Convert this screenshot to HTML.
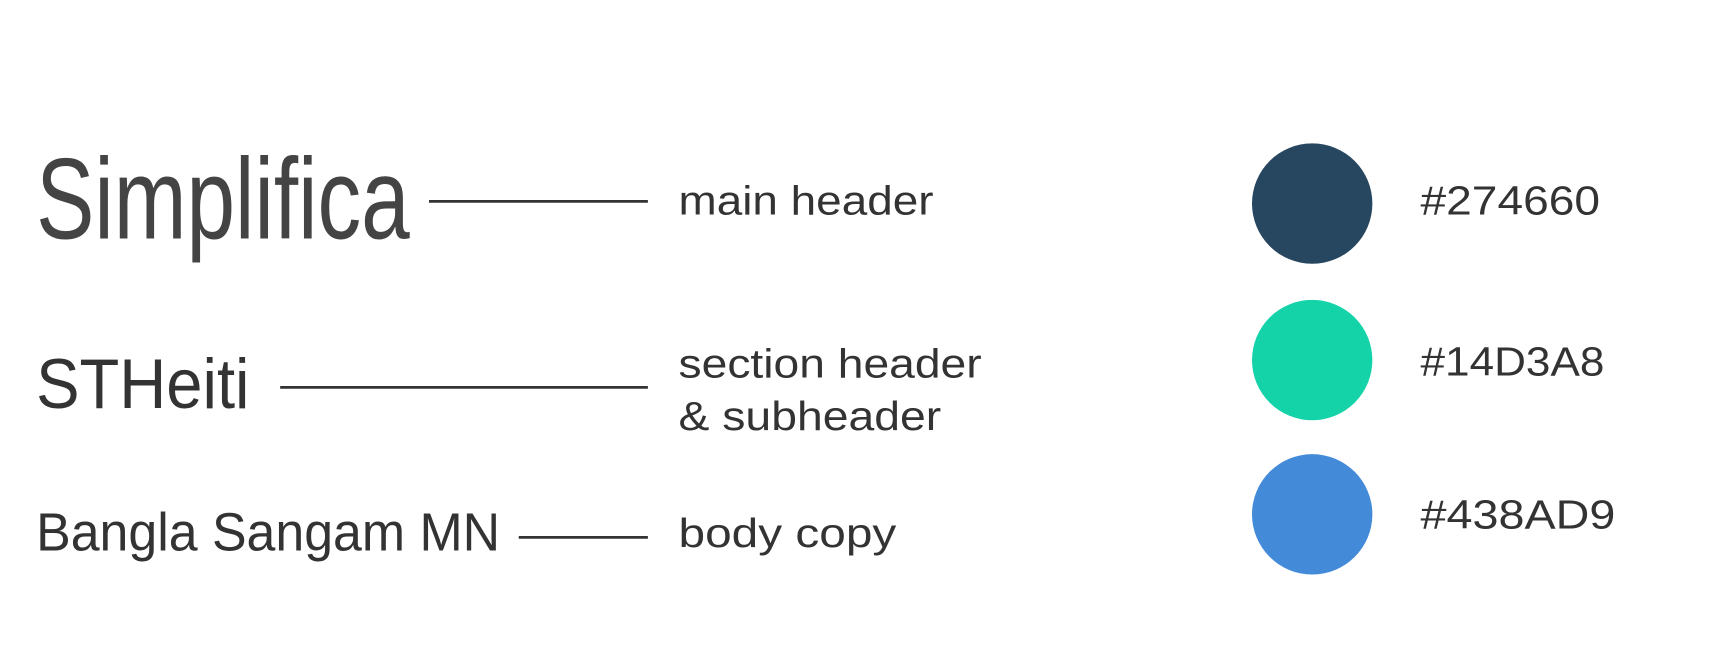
<!DOCTYPE html>
<html>
<head>
<meta charset="utf-8">
<style>
  html, body { margin: 0; padding: 0; background: #ffffff; }
  body { width: 1716px; height: 667px; overflow: hidden; }
  svg { display: block; }
  text { fill: #333333; font-family: "Liberation Sans", "DejaVu Sans", sans-serif; }
</style>
</head>
<body>
<svg width="1716" height="667" viewBox="0 0 1716 667">
 <g transform="scale(1.0944)">
  <g>
    <text x="33" y="218" font-size="105" transform="translate(33 0) scale(0.76 1) translate(-33 0)" style="fill:#444">Simplifica</text>
    <line x1="392" y1="184" x2="592" y2="184" stroke="#333" stroke-width="2.5"/>
    <text x="620" y="196" font-size="37" textLength="233" lengthAdjust="spacingAndGlyphs">main header</text>
  </g>

  <g>
    <text x="33" y="373" font-size="64" font-family="DejaVu Sans" textLength="195" lengthAdjust="spacingAndGlyphs">STHeiti</text>
    <line x1="256" y1="354" x2="592" y2="354" stroke="#333" stroke-width="2.5"/>
    <text x="620" y="345" font-size="37" textLength="277" lengthAdjust="spacingAndGlyphs">section header</text>
    <text x="620" y="393" font-size="37" textLength="240" lengthAdjust="spacingAndGlyphs">&amp; subheader</text>
  </g>

  <g>
    <text x="33" y="503" font-size="49" textLength="424" lengthAdjust="spacingAndGlyphs">Bangla Sangam MN</text>
    <line x1="474" y1="491" x2="592" y2="491" stroke="#333" stroke-width="2.5"/>
    <text x="620" y="500" font-size="37" textLength="199" lengthAdjust="spacingAndGlyphs">body copy</text>
  </g>

  <g>
    <circle cx="1199" cy="186" r="55" fill="#274660"/>
    <text x="1298" y="196" font-size="37" textLength="164" lengthAdjust="spacingAndGlyphs">#274660</text>
    <circle cx="1199" cy="329" r="55" fill="#14D3A8"/>
    <text x="1298" y="343" font-size="37" textLength="168" lengthAdjust="spacingAndGlyphs">#14D3A8</text>
    <circle cx="1199" cy="470" r="55" fill="#438AD9"/>
    <text x="1298" y="483" font-size="37" textLength="178" lengthAdjust="spacingAndGlyphs">#438AD9</text>
  </g>
 </g>
</svg>
</body>
</html>
